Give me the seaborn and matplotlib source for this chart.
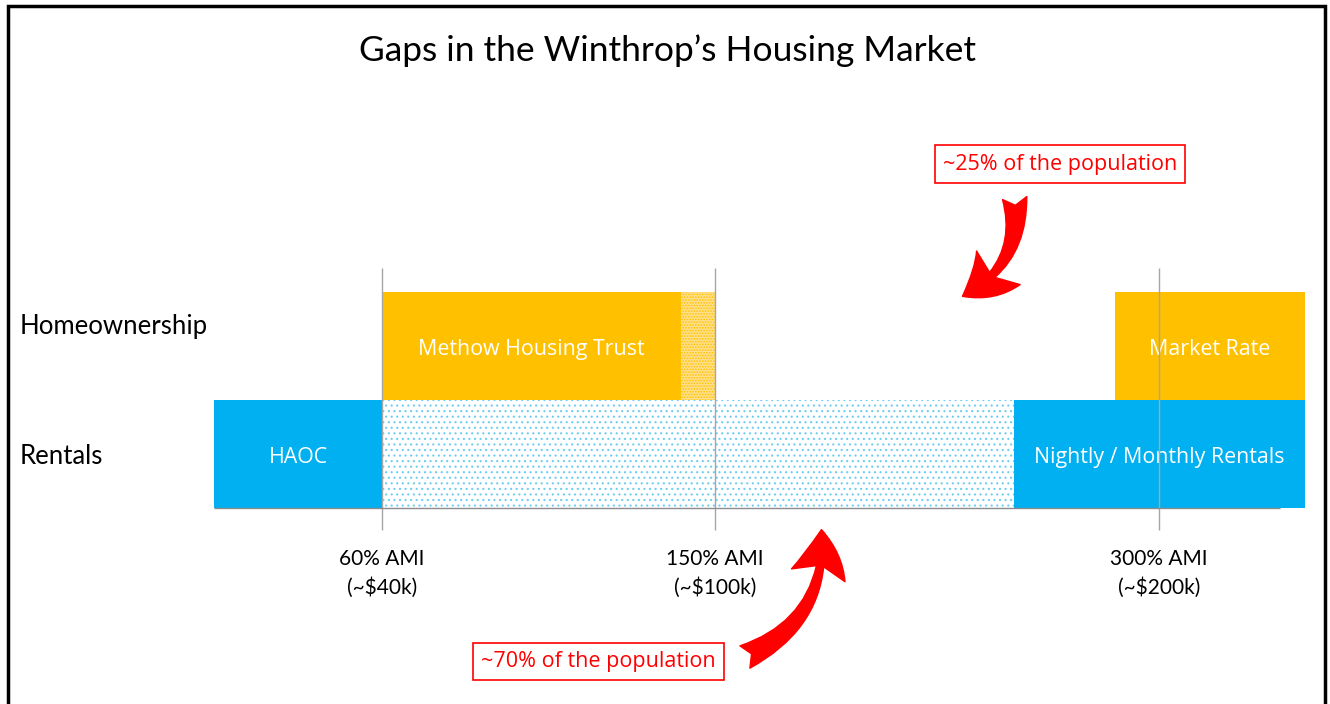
import numpy as np
import pandas as pd
import matplotlib
matplotlib.use('Agg')
import matplotlib.pyplot as plt
from matplotlib.patches import Rectangle
import seaborn as sns

# rows of the chart and the AMI markers (x in arbitrary income-position units)
rows = ['Homeownership', 'Rentals']
tick_pos = [3.0, 6.0, 10.0]
tick_labels = ['60% AMI\n(~$40k)', '150% AMI\n(~$100k)', '300% AMI\n(~$200k)']

# segments of the housing market
seg_rows = ['Rentals', 'Rentals', 'Rentals', 'Homeownership', 'Homeownership', 'Homeownership']
seg_start = [1.49, 3.0, 8.69, 3.0, 5.69, 9.60]
seg_end = [3.0, 8.69, 11.32, 5.69, 6.0, 11.32]
seg_labels = ['HAOC', '', 'Nightly / Monthly Rentals', 'Methow Housing Trust', '', 'Market Rate']
seg_kind = ['rent', 'gap', 'rent', 'own', 'own_part', 'own']

notes = ['~25% of the population', '~70% of the population']

df = pd.DataFrame({'row': seg_rows, 'start': seg_start, 'end': seg_end,
                   'label': seg_labels, 'kind': seg_kind})
df['span'] = df['end'] - df['start']

sns.set_theme(style='white')
plt.rcParams['hatch.linewidth'] = 0.8

styles = {
    'rent': dict(color='#00B0F0', hatch=None, edgecolor='#00B0F0'),
    'own': dict(color='#FFC000', hatch=None, edgecolor='#FFC000'),
    'gap': dict(color='white', hatch='...', edgecolor='#6FCDF2'),
    'own_part': dict(color='#FFE08A', hatch='......', edgecolor='#FFC000'),
}

fig = plt.figure(figsize=(13.3, 7.04), dpi=100)
ax = fig.add_axes([0, 0, 1, 1])

for _, seg in df.iterrows():
    st = styles[seg['kind']]
    sns.barplot(x=[seg['span']], y=[seg['row']], order=rows, orient='h',
                left=seg['start'], width=1.0, color=st['color'], saturation=1,
                edgecolor=st['edgecolor'], linewidth=0, hatch=st['hatch'], ax=ax)
    if seg['label']:
        ax.text((seg['start'] + seg['end']) / 2, rows.index(seg['row']) + 0.03, seg['label'],
                color='white', ha='center', va='center', fontsize=15.4, family='Open Sans')

# AMI reference lines and baseline
ax.vlines(tick_pos, -0.72, 1.70, color='#A6A6A6', lw=1, zorder=5)
ax.hlines(1.5, min(seg_start), 11.09, color='#8C8C8C', lw=1, zorder=5)
for p, t in zip(tick_pos, tick_labels):
    ax.text(p, 2.11, t, ha='center', va='center', fontsize=15, family='Lato',
            linespacing=1.5, color='black')

for i, r in enumerate(rows):
    ax.text(-0.26, i - 0.18 if i == 0 else i + 0.02, r, ha='left', va='center',
            fontsize=18.5, family='Lato', color='black')

# callouts
ax.text(9.11, -1.685, notes[0], color='red', ha='center', va='center', fontsize=15.5,
        family='Open Sans', bbox=dict(boxstyle='square,pad=0.38', fc='white', ec='red', lw=1.2))
ax.text(4.95, 2.92, notes[1], color='red', ha='center', va='center', fontsize=15.5,
        family='Open Sans', bbox=dict(boxstyle='square,pad=0.38', fc='white', ec='red', lw=1.2))
ax.annotate('', xy=(8.23, -0.46), xytext=(8.70, -1.37),
            arrowprops=dict(arrowstyle='fancy,head_length=1.5,head_width=1.8,tail_width=0.8',
                            connectionstyle='arc3,rad=-0.35', color='red', shrinkA=0, shrinkB=0,
                            mutation_scale=22))
ax.annotate('', xy=(6.96, 1.70), xytext=(6.27, 2.88),
            arrowprops=dict(arrowstyle='fancy,head_length=1.5,head_width=1.8,tail_width=0.8',
                            connectionstyle='arc3,rad=0.35', color='red', shrinkA=0, shrinkB=0,
                            mutation_scale=22))

ax.set_xlim(-0.441, 11.541)
ax.set_ylim(3.315, -3.204)
ax.axis('off')

fig.text(0.502, 1 - 51 / 704, 'Gaps in the Winthrop\u2019s Housing Market', ha='center',
         va='center', fontsize=25.5, family='Lato', color='black')
fig.add_artist(Rectangle((8 / 1330, -0.02), (1325 - 8) / 1330, 1 - 6 / 704 + 0.02,
                         transform=fig.transFigure, fill=False, ec='black', lw=2.5))

plt.savefig('out.png', dpi=100)
